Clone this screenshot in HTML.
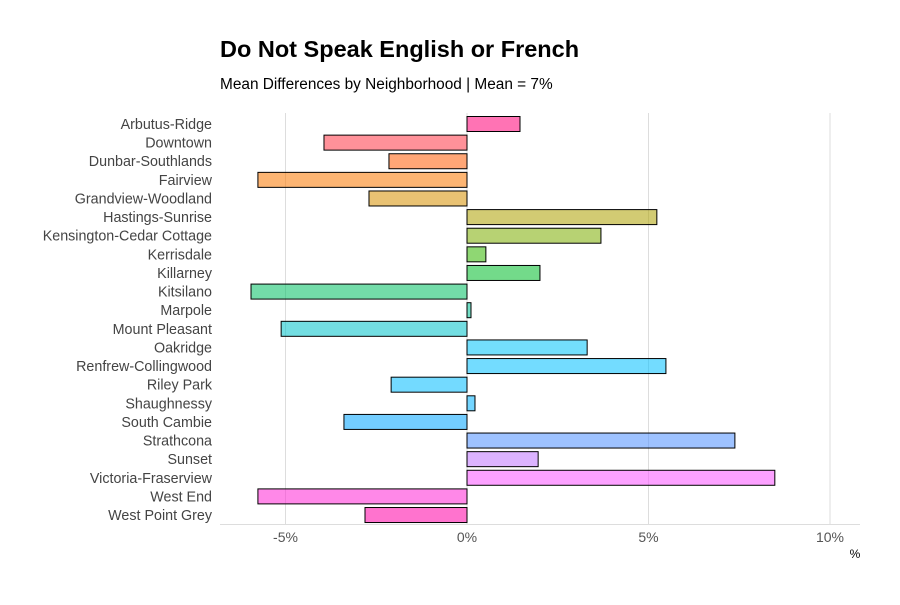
<!DOCTYPE html>
<html><head><meta charset="utf-8"><style>
body{margin:0;background:#fff;font-family:"Liberation Sans",sans-serif}
svg text{font-family:"Liberation Sans",sans-serif}
</style></head><body>
<svg id="chart" width="900" height="600">
<text x="220" y="57" font-size="23.5" font-weight="bold" fill="#000">Do Not Speak English or French</text>
<text x="220" y="89" font-size="15.4" fill="#000">Mean Differences by Neighborhood | Mean = 7%</text>
<g id="grid"></g><g id="bars"></g><g id="ylabels"></g><g id="xlabels"></g>
<text x="855" y="558" font-size="12" text-anchor="middle" fill="#000">%</text>
</svg>
<script>
const categories=["Arbutus-Ridge","Downtown","Dunbar-Southlands","Fairview","Grandview-Woodland","Hastings-Sunrise","Kensington-Cedar Cottage","Kerrisdale","Killarney","Kitsilano","Marpole","Mount Pleasant","Oakridge","Renfrew-Collingwood","Riley Park","Shaughnessy","South Cambie","Strathcona","Sunset","Victoria-Fraserview","West End","West Point Grey"];
const values=[1.46,-3.94,-2.15,-5.76,-2.7,5.23,3.69,0.52,2.01,-5.95,0.11,-5.12,3.31,5.48,-2.09,0.22,-3.39,7.38,1.96,8.48,-5.76,-2.81];
const ticks=[-5,0,5,10];
const tickLabels=["-5%","0%","5%","10%"];
const NS="http://www.w3.org/2000/svg";
const x=v=>467+v*36.3;
const y=i=>124+i*18.62;
function mk(t,a,p){const e=document.createElementNS(NS,t);for(const k in a)e.setAttribute(k,a[k]);p.appendChild(e);return e;}
function hcl(h,c,l){
 const hr=h*Math.PI/180,a=Math.cos(hr)*c,b=Math.sin(hr)*c;
 let fy=(l+16)/116,fx=fy+a/500,fz=fy-b/200;
 const f=t=>t>6/29?t*t*t:3*(6/29)*(6/29)*(t-4/29);
 const X=0.95047*f(fx),Y=f(fy),Z=1.08883*f(fz);
 let r=3.2406*X-1.5372*Y-0.4986*Z,g=-0.9689*X+1.8758*Y+0.0415*Z,bb=0.0557*X-0.2040*Y+1.0570*Z;
 const gm=v=>{v=v<=0.0031308?12.92*v:1.055*Math.pow(v,1/2.4)-0.055;return Math.round(Math.max(0,Math.min(1,v))*255);};
 return `rgb(${gm(r)},${gm(g)},${gm(bb)})`;
}
const grid=document.getElementById('grid'),bars=document.getElementById('bars'),yl=document.getElementById('ylabels'),xl=document.getElementById('xlabels');
mk('line',{x1:220,x2:860,y1:524.5,y2:524.5,stroke:'#ddd'},grid);
ticks.forEach((t,i)=>{
 const l=mk('line',{x1:x(t),x2:x(t),y1:113,y2:524,stroke:'#ddd'},grid);
 
 
 const tx=mk('text',{x:x(t),y:542,'font-size':14,'text-anchor':'middle',fill:'#555'},xl);
 tx.textContent=tickLabels[i];
 
 
});
categories.forEach((c,i)=>{
 const v=values[i];const hue=15+360*i/categories.length;
 const r=mk('rect',{x:Math.min(x(0),x(v)),y:y(i)-7.5,width:Math.abs(x(v)-x(0)),height:15,fill:hcl(hue,100,65),'fill-opacity':0.55,stroke:'#000','stroke-width':1},bars);
 
 
 const t=mk('text',{x:212,y:y(i)+5,'font-size':14.3,'text-anchor':'end',fill:'#444'},yl);
 t.textContent=c;
 
 
});
</script>
</body></html>
